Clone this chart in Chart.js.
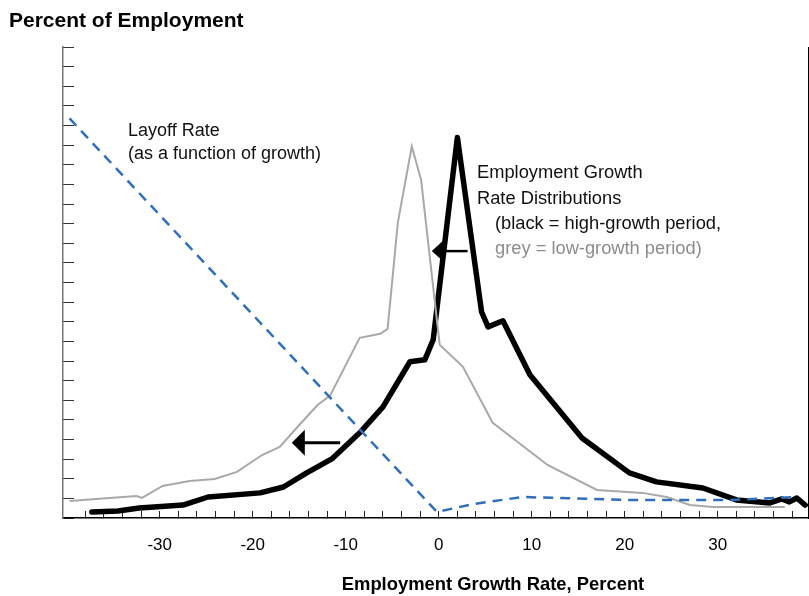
<!DOCTYPE html>
<html>
<head>
<meta charset="utf-8">
<script src="https://cdn.jsdelivr.net/npm/chart.js@4"></script>
<style>
  html, body { margin: 0; padding: 0; background: #fff; }
  canvas { display: block; }
</style>
</head>
<body>
<canvas id="chart" width="809" height="596"></canvas>
<script>
// employment growth rate (percent) and share of employment
const highGrowthX = [-37.3, -34.5, -32.2, -27.5, -24.8, -19.2, -16.7, -14.2, -11.5, -8.5, -6.0, -3.1, -1.5, -0.6, 2.0, 4.6, 5.3, 6.9, 9.8, 15.4, 20.5, 23.4, 28.4, 32.0, 35.6, 36.9, 37.7, 38.5, 39.4];
const highGrowthY = [0.31, 0.36, 0.51, 0.66, 1.07, 1.28, 1.58, 2.30, 3.01, 4.34, 5.66, 7.96, 8.06, 9.08, 19.39, 10.51, 9.74, 10.05, 7.30, 4.08, 2.30, 1.84, 1.53, 0.92, 0.77, 0.97, 0.82, 1.02, 0.66];

const lowGrowthX = [-39.7, -32.5, -31.9, -29.7, -26.8, -24.1, -21.7, -19.0, -17.1, -15.0, -13.0, -11.7, -8.5, -6.3, -5.5, -4.4, -2.9, -1.9, 0.1, 2.6, 5.8, 11.7, 17.0, 21.9, 24.5, 27.0, 29.5, 37.2];
const lowGrowthY = [0.87, 1.12, 1.02, 1.63, 1.89, 1.99, 2.35, 3.21, 3.62, 4.74, 5.77, 6.22, 9.18, 9.39, 9.64, 15.05, 18.93, 17.24, 8.83, 7.70, 4.85, 2.70, 1.43, 1.28, 1.07, 0.66, 0.56, 0.56];

const layoffX = [-39.7, -0.2, 3.7, 9.0, 20.5, 31.3, 38.5];
const layoffY = [20.36, 0.31, 0.71, 1.07, 0.92, 0.92, 1.07];

const xTickLabels = [-30, -20, -10, 0, 10, 20, 30];
const xMinorTicks = [-38, -36, -34, -32, -30, -28, -26, -24, -22, -20, -18, -16, -14, -12, -10, -8, -6, -4, -2, 0,
  2, 4, 6, 8, 10, 12, 14, 16, 18, 20, 22, 24, 26, 28, 30, 32, 34, 36, 38];

// shift arrows: [tail x, tip x, y]
const shiftArrows = [[-10.6, -15.8, 3.83], [3.1, -0.75, 13.6]];

const FONT = '"Liberation Sans", Arial, Helvetica, sans-serif';

const pts = (xs, ys) => xs.map((x, i) => ({ x: x, y: ys[i] }));

const notes = [
  { text: 'Percent of Employment', x: 9, y: 27, font: 'bold 21px ' + FONT, color: '#000', align: 'left' },
  { text: 'Layoff Rate', x: 128, y: 136, font: '18px ' + FONT, color: '#111', align: 'left' },
  { text: '(as a function of growth)', x: 128, y: 159, font: '18px ' + FONT, color: '#111', align: 'left' },
  { text: 'Employment Growth', x: 477, y: 178, font: '18.3px ' + FONT, color: '#111', align: 'left' },
  { text: 'Rate Distributions', x: 477, y: 204, font: '18.3px ' + FONT, color: '#111', align: 'left' },
  { text: '(black = high-growth period,', x: 495, y: 229, font: '18.3px ' + FONT, color: '#111', align: 'left' },
  { text: 'grey = low-growth period)', x: 495, y: 254, font: '18.3px ' + FONT, color: '#8c8c8c', align: 'left' },
  { text: 'Employment Growth Rate, Percent', x: 493, y: 590, font: 'bold 18.4px ' + FONT, color: '#000', align: 'center' }
];

const annotations = {
  id: 'annotations',
  afterDatasetsDraw(chart) {
    const ctx = chart.ctx;
    const xs = chart.scales.x, ys = chart.scales.y;
    ctx.save();
    ctx.fillStyle = '#000';
    ctx.strokeStyle = '#000';
    shiftArrows.forEach((a, i) => {
      const tail = xs.getPixelForValue(a[0]);
      const tip = xs.getPixelForValue(a[1]);
      const y = ys.getPixelForValue(a[2]);
      const len = i === 0 ? 13 : 11;
      const half = i === 0 ? 13 : 10;
      ctx.lineWidth = i === 0 ? 3 : 2.5;
      ctx.beginPath();
      ctx.moveTo(tail, y);
      ctx.lineTo(tip + len - 1, y);
      ctx.stroke();
      ctx.beginPath();
      ctx.moveTo(tip, y);
      ctx.lineTo(tip + len, y - half);
      ctx.lineTo(tip + len, y + half);
      ctx.closePath();
      ctx.fill();
    });
    ctx.restore();
  },
  afterDraw(chart) {
    const ctx = chart.ctx;
    ctx.save();
    ctx.textBaseline = 'alphabetic';
    notes.forEach(n => {
      ctx.font = n.font;
      ctx.fillStyle = n.color;
      ctx.textAlign = n.align;
      ctx.fillText(n.text, n.x, n.y);
    });
    ctx.restore();
  }
};

const ctx = document.getElementById('chart').getContext('2d');
new Chart(ctx, {
  type: 'scatter',
  data: {
    datasets: [
      {
        data: pts(layoffX, layoffY),
        showLine: true,
        borderColor: '#2f6fba',
        borderWidth: 2.5,
        borderDash: [10, 7],
        pointRadius: 0,
        tension: 0
      },
      {
        data: pts(lowGrowthX, lowGrowthY),
        showLine: true,
        borderColor: '#a9a9a9',
        borderWidth: 2,
        pointRadius: 0,
        tension: 0
      },
      {
        data: pts(highGrowthX, highGrowthY),
        showLine: true,
        borderColor: '#000',
        borderWidth: 5.5,
        borderJoinStyle: 'round',
        borderCapStyle: 'round',
        pointRadius: 0,
        tension: 0
      }
    ]
  },
  options: {
    responsive: false,
    animation: false,
    layout: { padding: { left: 63, right: 1, top: 47, bottom: 38 } },
    plugins: {
      legend: { display: false },
      tooltip: { enabled: false },
      title: { display: false }
    },
    scales: {
      x: {
        type: 'linear',
        min: -40.4,
        max: 39.7,
        afterBuildTicks: s => { s.ticks = xMinorTicks.map(v => ({ value: v })); },
        afterFit: s => { s.height = 40; s.paddingLeft = 0; s.paddingRight = 0; },
        grid: { drawOnChartArea: false, drawTicks: true, tickLength: -7, tickColor: '#222', lineWidth: 1 },
        border: { display: true, color: '#000', width: 1.5 },
        ticks: {
          padding: 24,
          color: '#000',
          autoSkip: false,
          maxRotation: 0,
          font: { family: FONT, size: 17 },
          callback: v => xTickLabels.includes(v) ? String(v) : ''
        }
      },
      y: {
        min: 0,
        max: 24,
        afterFit: s => { s.width = 0; },
        ticks: { stepSize: 1, display: false },
        grid: { drawOnChartArea: false, drawTicks: true, tickLength: -11, tickColor: '#333', lineWidth: 1 },
        border: { display: true, color: '#777', width: 1.5 }
      },
      y2: {
        position: 'right',
        min: 0,
        max: 24,
        afterFit: s => { s.width = 0; },
        ticks: { display: false },
        grid: { display: false },
        border: { display: true, color: '#000', width: 1 }
      }
    }
  },
  plugins: [annotations]
});
</script>
</body>
</html>
